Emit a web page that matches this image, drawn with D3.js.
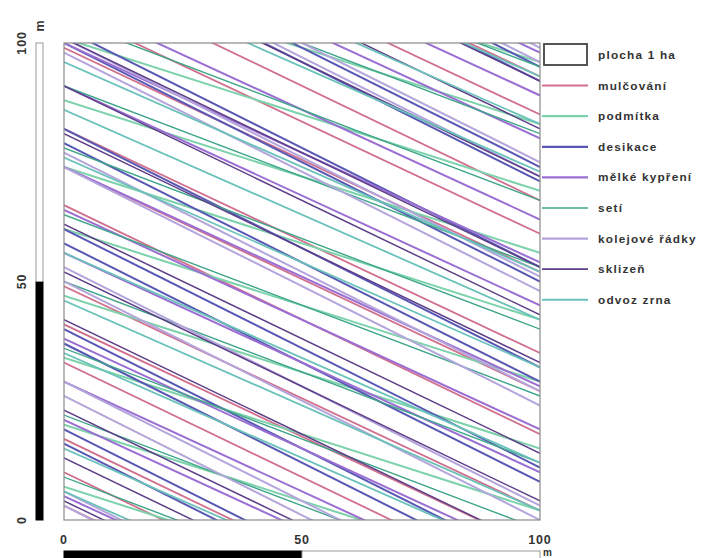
<!DOCTYPE html>
<html>
<head>
<meta charset="utf-8">
<script src="https://cdn.jsdelivr.net/npm/d3@7"></script>
<style>
  html, body { margin: 0; padding: 0; background: #fff; }
  svg { display: block; }
  text { font-family: "Liberation Sans", Arial, sans-serif; fill: #333; font-weight: bold; }
</style>
</head>
<body>
<svg id="chart" width="710" height="558"></svg>
<script>
// Field operations and their wheel tracks across a 1 ha plot (100 m x 100 m).
// Each track: [y at x = 0 m, y at x = 100 m], in metres.
const operations = ["mulčování", "podmítka", "desikace", "mělké kypření",
                    "setí", "kolejové řádky", "sklizeň", "odvoz zrna"];

const tracksMulcovani = [[148, 101], [140, 93], [132, 85], [115, 67], [107, 60], [99, 52],
                         [82, 35], [74, 27], [66, 18], [49, 2], [41, -6], [33, -15],
                         [17, -31], [10, -38], [3, -45]];
const tracksPodmitka  = [[128, 96], [115, 83], [101, 69], [88, 56], [74, 42],
                         [61, 29], [47, 15], [34, 2], [20, -12], [7, -25]];
const tracksDesikace  = [[145, 95], [142, 92], [124, 74], [121, 71], [103, 53], [100, 50],
                         [82, 32], [79, 29], [61, 11], [58, 8], [40, -10], [37, -13],
                         [19, -31], [16, -34]];
const tracksKypreni   = [[144, 98], [135, 89], [126, 80], [109, 63], [100, 54], [91, 45],
                         [74, 28], [65, 19], [56, 10], [38, -8], [29, -17], [21, -25],
                         [5, -41]];
const tracksSeti      = [[133, 95], [119, 81], [105, 67], [91, 53], [78, 40],
                         [64, 26], [50, 12], [36, -2], [22, -16], [9, -29]];
const tracksKolejove  = [[149, 99], [146, 96], [125, 75], [122, 72], [101, 51], [98, 48],
                         [77, 27], [74, 24], [53, 3], [50, 0], [29, -21], [26, -24],
                         [6, -44], [3, -47]];
const tracksSklizen   = [[140, 92], [130, 82], [120, 72], [101, 53], [91, 43], [81, 33],
                         [62, 14], [52, 4], [42, -6], [23, -25], [13, -35], [4, -44]];
const tracksOdvoz     = [[137, 93], [127, 83], [117, 73], [96, 52], [86, 42], [76, 32],
                         [56, 12], [46, 2], [35, -9], [15, -29], [6, -38]];

const tracksByOperation = [tracksMulcovani, tracksPodmitka, tracksDesikace, tracksKypreni,
                           tracksSeti, tracksKolejove, tracksSklizen, tracksOdvoz];

const axisTicks = [0, 50, 100];
const scaleBarSegments = [[0, 50], [50, 100]];
const areaLabel = "plocha 1 ha";
const unitLabel = "m";

// Styling per operation
const colors = ["#d0708d", "#7cd2aa", "#5858b4", "#9a6ed2", "#3ea58a", "#b4a5dc", "#5d3e88", "#6ac2ba"];
const widths = [1.8, 2.0, 2.0, 2.0, 1.4, 2.0, 1.5, 1.8];

const svg = d3.select("#chart");
const x = d3.scaleLinear().domain([0, 100]).range([64, 540]);
const y = d3.scaleLinear().domain([0, 100]).range([520, 43]);

svg.append("clipPath").attr("id", "plot-clip")
  .append("rect")
  .attr("x", x(0)).attr("y", y(100))
  .attr("width", x(100) - x(0)).attr("height", y(0) - y(100));

const plot = svg.append("g").attr("clip-path", "url(#plot-clip)");

const line = d3.line().x(d => x(d[0])).y(d => y(d[1]));

tracksByOperation.forEach((tracks, i) => {
  plot.append("g")
    .selectAll("path")
    .data(tracks)
    .join("path")
    .attr("d", t => line([[0, t[0]], [100, t[1]]]))
    .attr("fill", "none")
    .attr("stroke", colors[i])
    .attr("stroke-width", widths[i]);
});

// Plot border
svg.append("rect")
  .attr("x", x(0)).attr("y", y(100))
  .attr("width", x(100) - x(0)).attr("height", y(0) - y(100))
  .attr("fill", "none").attr("stroke", "#8a8a8a").attr("stroke-width", 1.2);

// Vertical scale bar (left)
svg.append("g").selectAll("rect")
  .data(scaleBarSegments)
  .join("rect")
  .attr("x", 36).attr("width", 7)
  .attr("y", d => y(d[1]))
  .attr("height", d => y(d[0]) - y(d[1]))
  .attr("fill", (d, i) => i === 0 ? "#000" : "#fff")
  .attr("stroke", (d, i) => i === 0 ? "#000" : "#999")
  .attr("stroke-width", 1);

// Horizontal scale bar (bottom)
svg.append("g").selectAll("rect")
  .data(scaleBarSegments)
  .join("rect")
  .attr("y", 551).attr("height", 8)
  .attr("x", d => x(d[0]))
  .attr("width", d => x(d[1]) - x(d[0]))
  .attr("fill", (d, i) => i === 0 ? "#000" : "#fff")
  .attr("stroke", (d, i) => i === 0 ? "#000" : "#999")
  .attr("stroke-width", 1);

// Left tick labels (rotated)
svg.append("g").selectAll("text")
  .data(axisTicks)
  .join("text")
  .attr("transform", d => `translate(26,${y(d)}) rotate(-90)`)
  .attr("text-anchor", "middle")
  .attr("font-size", 12.5)
  .attr("letter-spacing", 0.8)
  .text(d => d);

svg.append("text")
  .attr("transform", `translate(44,26) rotate(-90)`)
  .attr("text-anchor", "middle")
  .attr("font-size", 12.5)
  .text(unitLabel);

// Bottom tick labels
svg.append("g").selectAll("text")
  .data(axisTicks)
  .join("text")
  .attr("x", d => x(d)).attr("y", 544)
  .attr("text-anchor", "middle")
  .attr("font-size", 12.5)
  .attr("letter-spacing", 0.8)
  .text(d => d);

svg.append("text")
  .attr("x", 543).attr("y", 556)
  .attr("font-size", 10)
  .text(unitLabel);

// Legend
const legend = svg.append("g");
const legendX0 = 542, legendX1 = 588, legendText = 598;
const legendY = i => 55 + i * 30.6;

legend.append("rect")
  .attr("x", 544).attr("y", 44).attr("width", 43).attr("height", 21)
  .attr("fill", "#fff").attr("stroke", "#444").attr("stroke-width", 1.8);
legend.append("text")
  .attr("x", legendText).attr("y", legendY(0) + 4)
  .attr("font-size", 11.8)
  .attr("letter-spacing", 1.2)
  .text(areaLabel);

operations.forEach((name, i) => {
  const yy = legendY(i + 1);
  legend.append("line")
    .attr("x1", legendX0).attr("x2", legendX1)
    .attr("y1", yy).attr("y2", yy)
    .attr("stroke", colors[i]).attr("stroke-width", widths[i] + 0.2);
  legend.append("text")
    .attr("x", legendText).attr("y", yy + 4)
    .attr("font-size", 11.8)
    .attr("letter-spacing", 1.2)
    .text(name);
});
</script>
</body>
</html>
